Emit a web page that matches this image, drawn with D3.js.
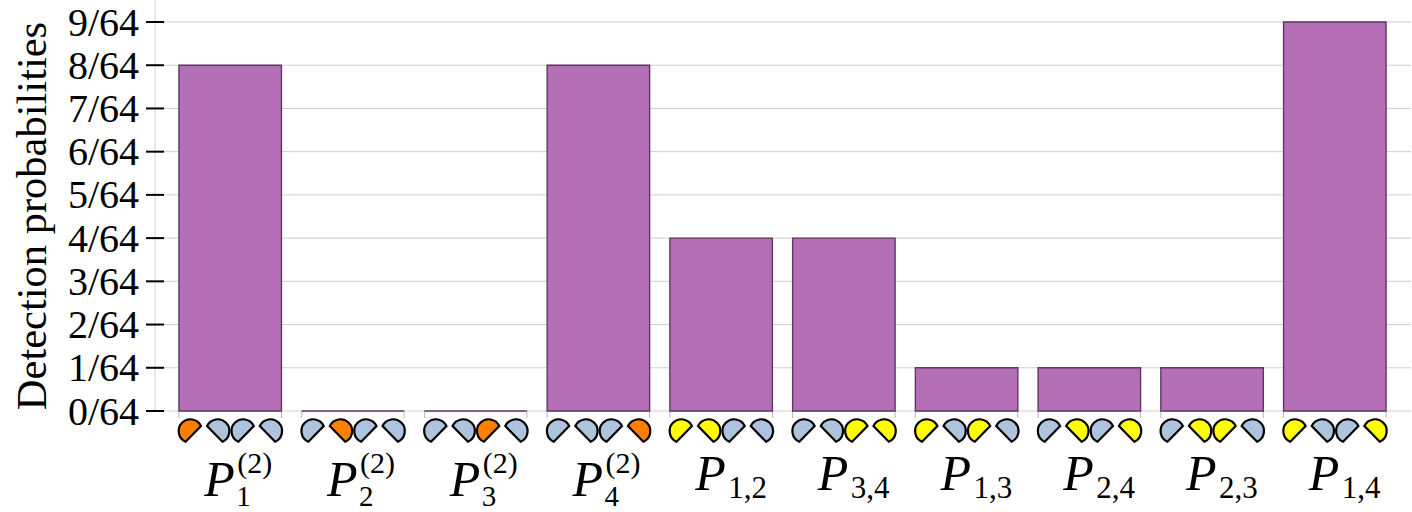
<!DOCTYPE html>
<html><head><meta charset="utf-8">
<script src="https://cdn.jsdelivr.net/npm/d3@7"></script>
<style>html,body{margin:0;padding:0;background:#fff}svg{display:block}text{font-family:"Liberation Serif",serif;fill:#000}</style>
</head><body><div id="c"></div>
<script>
const categories=["P1(2)","P2(2)","P3(2)","P4(2)","P1,2","P3,4","P1,3","P2,4","P2,3","P1,4"];
const subscripts=["1","2","3","4","1,2","3,4","1,3","2,4","2,3","1,4"];
const superscripts=["(2)","(2)","(2)","(2)","","","","","",""];
const values=[8,0,0,8,4,4,1,1,1,9];
const tickValues=[0,1,2,3,4,5,6,7,8,9];
const patterns=["o...",".o..","..o.","...o","yy..","..yy","y.y.",".y.y",".yy.","y..y"];
const yLabel="Detection probabilities";
const glyphColors={o:"#ff8000",y:"#ffff00",".":"#adc3de"};
const W=1412,H=512;
const svg=d3.select("#c").append("svg").attr("width",W).attr("height",H);
const x=d3.scaleBand().domain(categories).range([156,1409]).paddingInner(.165).paddingOuter(.187);
const y=d3.scaleLinear().domain([0,9]).range([411,22]);
const g=svg.append("g");
g.append("line").attr("x1",155).attr("x2",155).attr("y1",0).attr("y2",411).attr("stroke","#d0d0d0").attr("stroke-width",1);
g.selectAll("line.grid").data(tickValues).join("line").attr("class","grid")
 .attr("x1",155).attr("x2",1411).attr("y1",d=>y(d)).attr("y2",d=>y(d)).attr("stroke","#cfcfcf").attr("stroke-width",1);
g.selectAll("line.tick").data(tickValues).join("line").attr("class","tick")
 .attr("x1",146).attr("x2",164).attr("y1",d=>y(d)).attr("y2",d=>y(d)).attr("stroke","#000").attr("stroke-width",2);
g.selectAll("text.tl").data(tickValues).join("text").attr("class","tl")
 .attr("x",139).attr("y",d=>y(d)+13.5).attr("text-anchor","end").attr("font-size",40).text(d=>d+"/64");
svg.append("text").attr("transform","translate(46,216) rotate(-90)").attr("text-anchor","middle").attr("font-size",42.5).text(yLabel);
const bw=x.bandwidth();
const col=g.selectAll("g.bar").data(categories).join("g").attr("class","bar");
col.append("line").attr("x1",d=>x(d)).attr("x2",d=>x(d)).attr("y1",y(0)).attr("y2",y(0)+7).attr("stroke","#b8b8b8");
col.append("line").attr("x1",d=>x(d)+bw).attr("x2",d=>x(d)+bw).attr("y1",y(0)).attr("y2",y(0)+7).attr("stroke","#b8b8b8");
col.append("path")
 .attr("d",(d,i)=>{const p=d3.path();p.rect(x(d),y(values[i]),bw,y(0)-y(values[i]));return p.toString();})
 .attr("fill","#b56fb6").attr("stroke","#5f3763").attr("stroke-width",1.4);
const r=11.7, off=[-39.8,-12.5,13,40.2];
function glyph(flip){
  const a0=204*Math.PI/180,a1=425*Math.PI/180;
  const p=d3.path();
  const f=t=>[ (flip?-1:1)*r*Math.sin(t), -r*Math.cos(t)];
  const s=f(a0);p.moveTo(s[0],s[1]);
  if(!flip)p.arc(0,0,r,a0-Math.PI/2,a1-Math.PI/2,false);
  else p.arc(0,0,r,Math.PI*1.5-a0,Math.PI*1.5-a1,true);
  p.closePath();return p.toString();
}
categories.forEach((c,i)=>{
  const cx=x(c)+bw/2;
  patterns[i].split("").forEach((k,j)=>{
    svg.append("path").attr("d",glyph(j%2===1)).attr("transform",`translate(${cx+off[j]},431)`)
      .attr("fill",glyphColors[k]).attr("stroke","#000").attr("stroke-width",2.2).attr("stroke-linejoin","miter");
  });
  const hasSup=superscripts[i]!=="";
  const px=cx-26;
  svg.append("text").attr("x",px).attr("y",hasSup?496:490).attr("font-size",50).attr("font-style","italic").text("P");
  svg.append("text").attr("x",px+(hasSup?32:33)).attr("y",hasSup?505.5:498).attr("font-size",hasSup?29:31).text(subscripts[i]);
  if(hasSup)svg.append("text").attr("x",px+33).attr("y",473).attr("font-size",30).text(superscripts[i]);
});
</script></body></html>
